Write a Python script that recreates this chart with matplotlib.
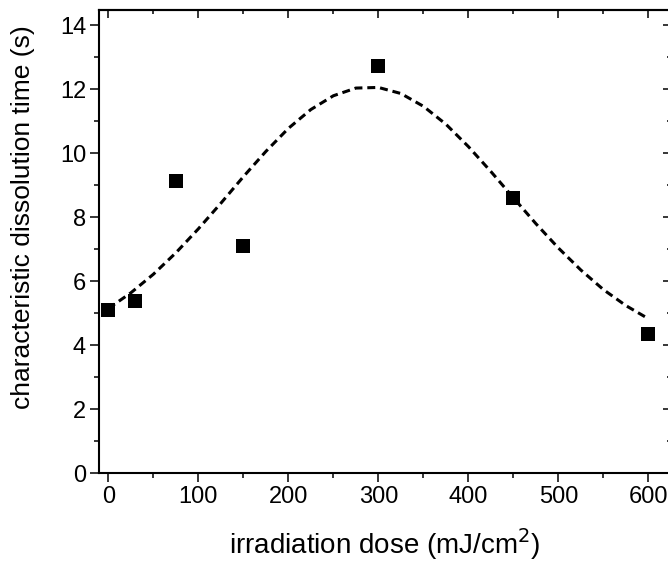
import matplotlib
matplotlib.use("Agg")
import matplotlib.pyplot as plt
from matplotlib.ticker import MultipleLocator

plt.rcParams['font.family'] = ['Liberation Sans', 'DejaVu Sans']

# measured data points
dose = [0, 30, 75, 150, 300, 450, 600]
time_s = [5.09, 5.38, 9.13, 7.10, 12.73, 8.58, 4.33]

# fitted curve
fit_dose = [0, 25, 50, 75, 100, 125, 150, 175, 200, 225, 250, 275, 300,
            325, 350, 375, 400, 425, 450, 475, 500, 525, 550, 575, 600]
fit_time = [5.14, 5.63, 6.21, 6.88, 7.63, 8.43, 9.26, 10.05, 10.77, 11.36,
            11.79, 12.03, 12.05, 11.86, 11.46, 10.90, 10.20, 9.42, 8.60,
            7.79, 7.03, 6.34, 5.73, 5.23, 4.82]

xlabel = "irradiation dose (mJ/cm$^2$)"
ylabel = "characteristic dissolution time (s)"

fig = plt.figure(figsize=(6.68, 5.62), dpi=100)
ax = fig.add_axes([99.3 / 668, 1 - 473 / 562, (671 - 99.3) / 668, 463 / 562])

ax.plot(fit_dose, fit_time, color='black', lw=2.2, linestyle=(0, (2.6, 1.6)),
        dash_capstyle='butt', zorder=2)
ax.plot(dose, time_s, linestyle='none', marker='s', ms=10, color='black',
        markeredgewidth=0, zorder=3)

ax.set_xlim(-10, 625)
ax.set_ylim(0, 14.47)

ax.xaxis.set_major_locator(MultipleLocator(100))
ax.xaxis.set_minor_locator(MultipleLocator(50))
ax.yaxis.set_major_locator(MultipleLocator(2))
ax.yaxis.set_minor_locator(MultipleLocator(1))

for s in ax.spines.values():
    s.set_linewidth(1.5)

ax.tick_params(which='major', direction='out', length=6.5, width=1.1,
               labelsize=17, pad=3)
ax.tick_params(which='minor', direction='out', length=3.5, width=1.1)

top = ax.secondary_xaxis('top')
top.xaxis.set_major_locator(MultipleLocator(100))
top.xaxis.set_minor_locator(MultipleLocator(50))
top.tick_params(which='major', direction='in', length=6, width=1.1, labeltop=False)
top.tick_params(which='minor', direction='in', length=3, width=1.1)
top.spines['top'].set_linewidth(1.5)

right = ax.secondary_yaxis('right')
right.yaxis.set_major_locator(MultipleLocator(2))
right.yaxis.set_minor_locator(MultipleLocator(1))
right.tick_params(which='major', direction='in', length=6, width=1.1, labelright=False)
right.tick_params(which='minor', direction='in', length=3, width=1.1)

ax.set_xlabel(xlabel, fontsize=20, labelpad=13)
ax.set_ylabel(ylabel, fontsize=19)
ax.yaxis.set_label_coords(-0.112, 0.553)

fig.savefig("out.png", dpi=100)
